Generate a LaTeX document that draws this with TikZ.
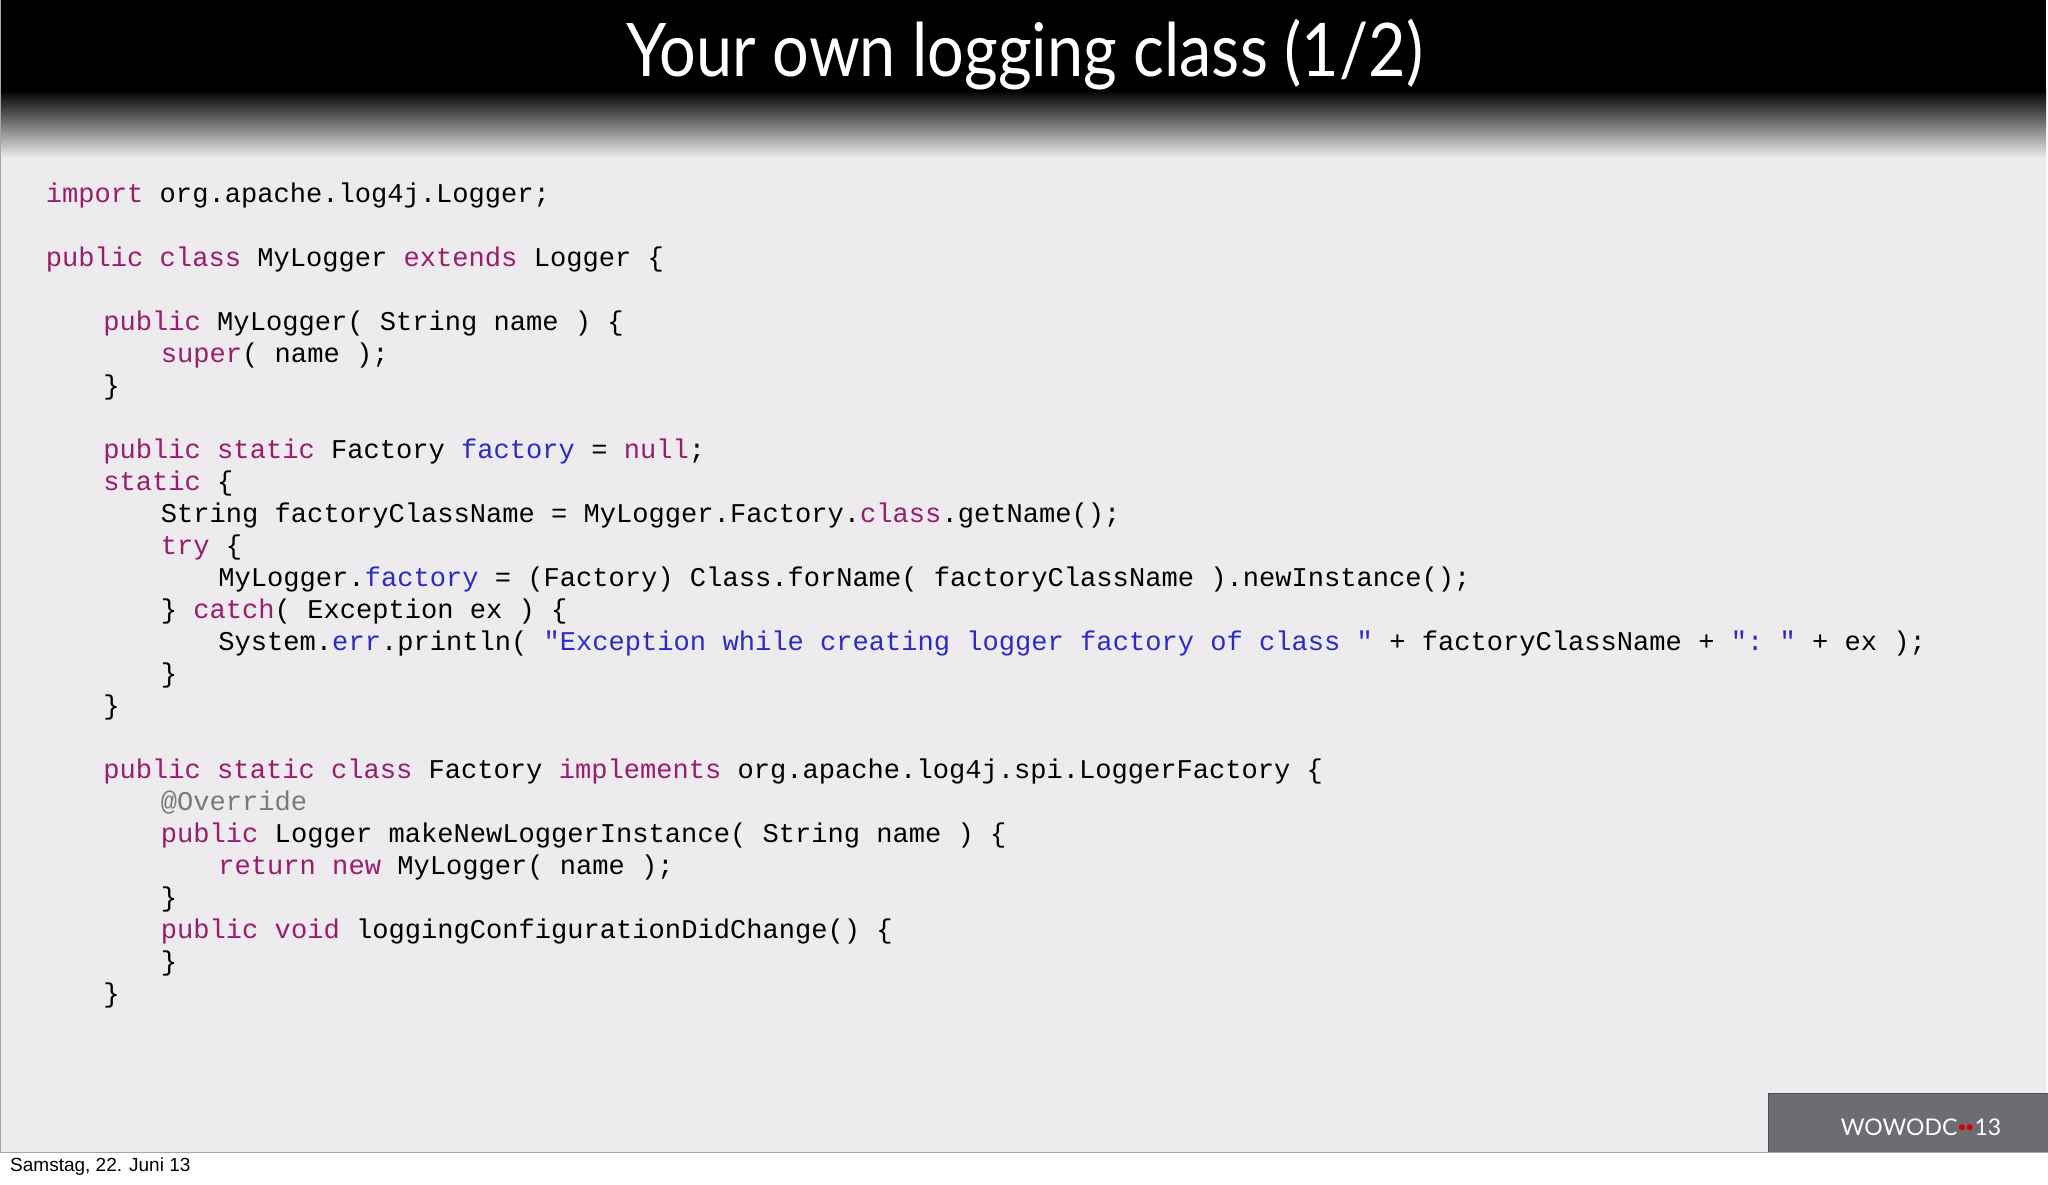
\documentclass[tikz,border=0pt]{standalone}
\usepackage{fontspec}
\setmonofont{Liberation Mono}
\setsansfont{Liberation Sans}
\newfontfamily\titlefont{Lato}
\definecolor{kw}{HTML}{9B1B6C}
\definecolor{bl}{HTML}{2B2BC8}
\definecolor{gr}{HTML}{7A7A7A}
\definecolor{slidebg}{HTML}{EDEBEE}
\definecolor{logobg}{HTML}{6E6B72}
\newcommand{\kw}[1]{\textcolor{kw}{#1}}
\newcommand{\bl}[1]{\textcolor{bl}{#1}}
\tikzset{codeline/.style={anchor=west,inner sep=0pt,font=\fontsize{27.1}{30}\selectfont\ttfamily,text=black}}
\newcommand{\cl}[3]{\node[codeline] (l#2) at ({45.7+#1*57.5},{196+32*#2}) {\strut #3};}
\begin{document}
\begin{tikzpicture}[x=1pt,y=-1pt]
\useasboundingbox (0,0) rectangle (2048,1184);
\fill[white] (0,0) rectangle (2048,1184);
\fill[slidebg] (0,0) rectangle (2046,1152);
\fill[black] (0,0) rectangle (2046,90);
\shade[top color=black,bottom color=slidebg] (0,90) rectangle (2046,158);
\draw[gray!70,line width=1.5pt] (0.7,0) -- (0.7,1152.5) -- (2048,1152.5);
\node[text=white,font=\fontsize{74}{80}\selectfont\titlefont,xscale=0.875] (title) at (1025,55) {Your own logging class (1/2)};
\cl{0}{0}{\kw{import} org.apache.log4j.Logger;}
\cl{0}{2}{\kw{public} \kw{class} MyLogger \kw{extends} Logger \{}
\cl{1}{4}{\kw{public} MyLogger( String name ) \{}
\cl{2}{5}{\kw{super}( name );}
\cl{1}{6}{\}}
\cl{1}{8}{\kw{public} \kw{static} Factory \bl{factory} = \kw{null};}
\cl{1}{9}{\kw{static} \{}
\cl{2}{10}{String factoryClassName = MyLogger.Factory.\kw{class}.getName();}
\cl{2}{11}{\kw{try} \{}
\cl{3}{12}{MyLogger.\bl{factory} = (Factory) Class.forName( factoryClassName ).newInstance();}
\cl{2}{13}{\} \kw{catch}( Exception ex ) \{}
\cl{3}{14}{System.\bl{err}.println( \bl{"Exception while creating logger factory of class "} + factoryClassName + \bl{": "} + ex );}
\cl{2}{15}{\}}
\cl{1}{16}{\}}
\cl{1}{18}{\kw{public} \kw{static} \kw{class} Factory \kw{implements} org.apache.log4j.spi.LoggerFactory \{}
\cl{2}{19}{\textcolor{gr}{@Override}}
\cl{2}{20}{\kw{public} Logger makeNewLoggerInstance( String name ) \{}
\cl{3}{21}{\kw{return} \kw{new} MyLogger( name );}
\cl{2}{22}{\}}
\cl{2}{23}{\kw{public} \kw{void} loggingConfigurationDidChange() \{}
\cl{2}{24}{\}}
\cl{1}{25}{\}}
\fill[logobg] (1768,1093) rectangle (2048,1152);
\draw[gray!60!black,line width=1pt] (1768,1152) -- (1768,1093) -- (2048,1093);
\node[text=white,font=\fontsize{23}{26}\selectfont\titlefont,inner sep=0pt] (logo) at (1921,1127) {WOWODC\textcolor{red!85!black}{\raisebox{0.25ex}{\scalebox{0.7}{\textbullet\kern-0.1em\textbullet}}}13};
\node[anchor=west,font=\fontsize{19}{22}\selectfont\sffamily,inner sep=0pt] (date) at (10,1167) {Samstag, 22. Juni 13};
\end{tikzpicture}
\end{document}
